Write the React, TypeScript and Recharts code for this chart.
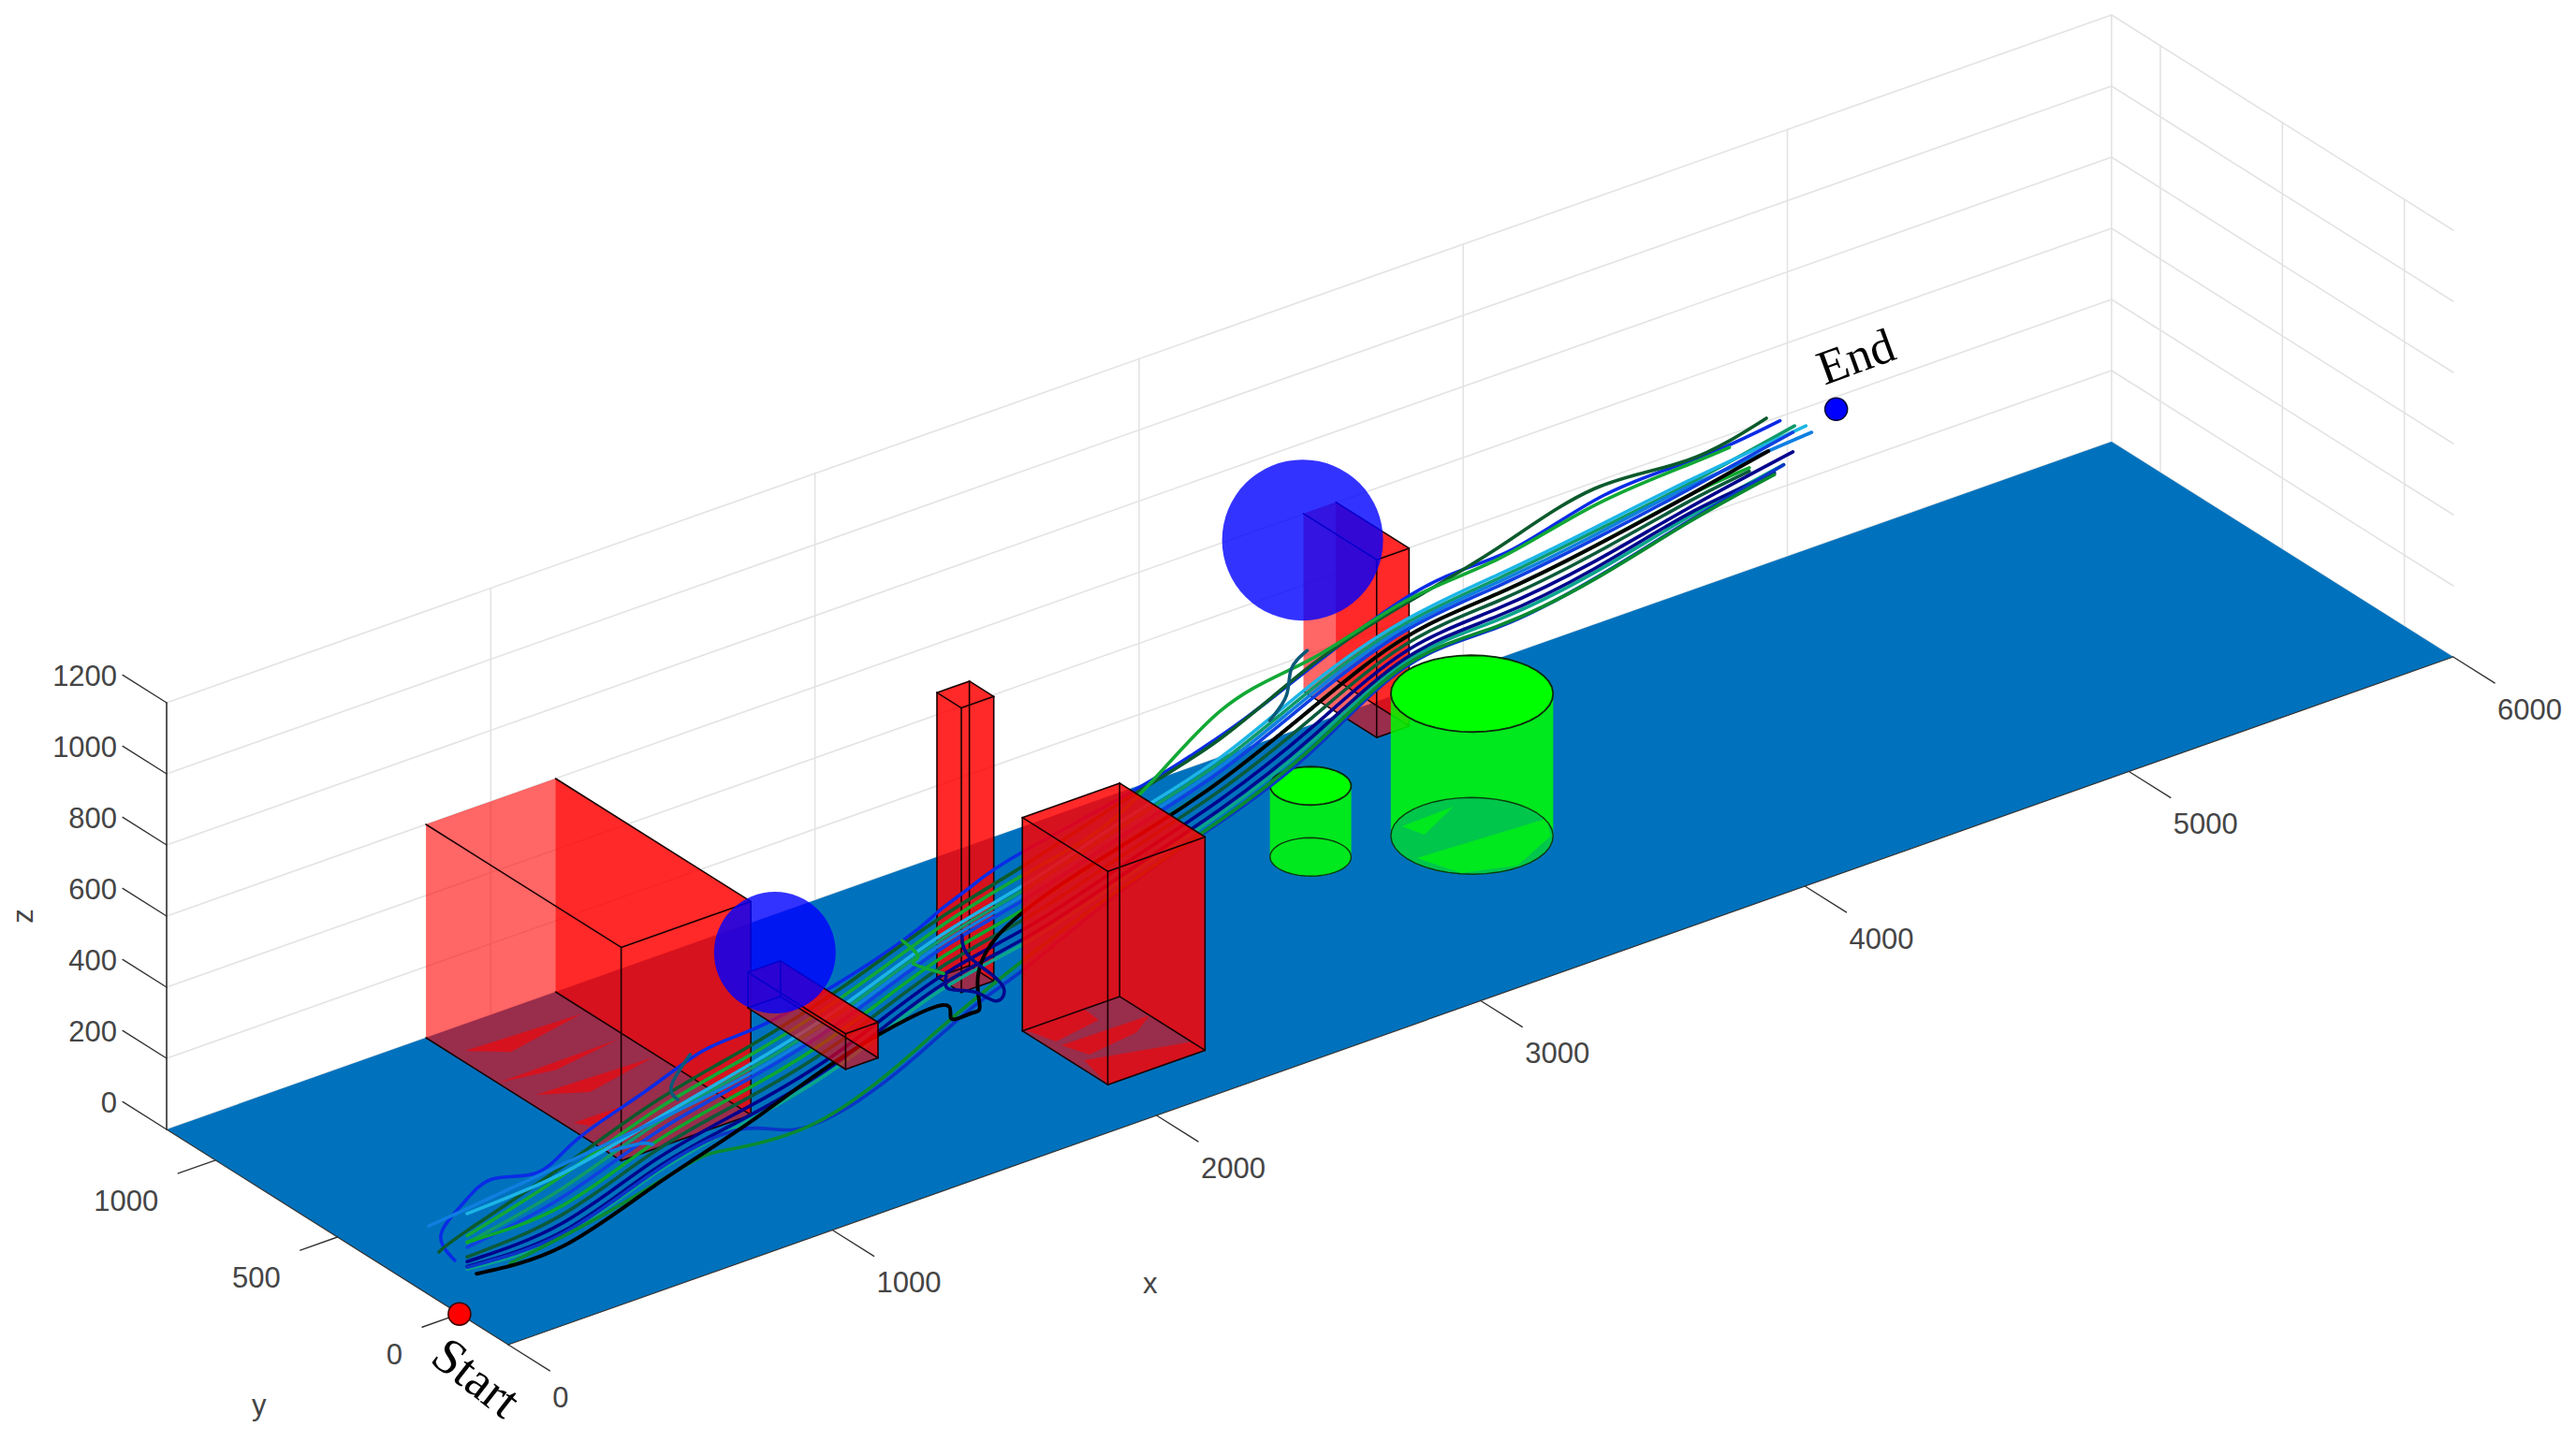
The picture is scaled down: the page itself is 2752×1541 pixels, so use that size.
import { ScatterChart, Scatter, XAxis, YAxis } from "recharts";

const WIDTH = 2752;
const HEIGHT = 1541;

// axis values
const xTicks = [0, 1000, 2000, 3000, 4000, 5000, 6000];
const yTicks = [0, 500, 1000];
const zTicks = [0, 200, 400, 600, 800, 1000, 1200];
const yFloor = [-200, 1200];

const startPoint = [0, 0, 0];
const endPoint = [5000, 1000, 500];

// obstacles: [xMin, xMax, yMin, yMax, zMin, zMax]
const boxRear = [3620, 3720, 1050, 1350, 0, 500];
const boxLeft = [800, 1200, 400, 1200, 0, 600];
const boxPillar = [2000, 2100, 600, 700, 0, 800];
const boxBeam = [1530, 1630, 450, 850, 0, 100];
const boxFront = [2000, 2300, 0, 350, 0, 600];

// [x, y, radius, height]
const cylinderSmall = [3115, 650, 100, 200];
const cylinderBig = [3500, 500, 200, 400];

// [x, y, z]
const sphereNear = [1500, 700, 230];
const sphereFar = [3000, 530, 980];

// bottom faces fighting with the floor, [x, y] corners
const streaksLeft = [
  [[835, 1088], [1184, 1071], [923, 1016]],
  [[802, 906], [1178, 911], [957, 875]],
  [[838, 800], [1187, 784], [954, 732]],
  [[824, 628], [990, 626], [848, 592]],
];
const streaksFront = [
  [[2008, 350], [2191, 350], [2185, 283], [2033, 256]],
  [[2032, 233], [2300, 227], [2221, 176], [2058, 152]],
  [[2030, 137], [2300, 55], [2300, 0], [2000, 0]],
];
const streaksCylinder = [
  [[3391, 643], [3555, 649], [3409, 575]],
  [[3321, 489], [3700, 462], [3656, 384], [3498, 309], [3362, 361]],
];

// flight paths
const sampleX = [50, 390, 720, 1050, 1380, 1720, 2050, 2380, 2720, 3050, 3380, 3710, 4050, 4380];
const sampleY = [35, 94, 151, 208, 266, 325, 382, 439, 498, 556, 613, 670, 729, 787];

const pathBlueTop = {
  color: "#0a2be6",
  x: [6, 0, 33, 142, 299, 442, 679, 885, 1065, 1331, 1606, 1727, 1840, 2006, 2426, 2705, 2925, 3401, 3740, 4079, 4419, 4709],
  y: [27, 76, 32, 51, 78, 103, 144, 180, 211, 257, 305, 326, 346, 374, 447, 496, 534, 617, 676, 734, 794, 844],
  z: [137, 189, 284, 312, 267, 305, 343, 376, 366, 373, 406, 437, 460, 484, 501, 529, 570, 660, 644, 668, 639, 629],
};
const pathDarkGreenTop = {
  color: "#0b5a2c",
  x: [0, ...sampleX, 4661],
  y: [84, ...sampleY, 836],
  z: [138, 203, 249, 301, 324, 358, 414, 447, 487, 524, 603, 643, 670, 700, 648, 655],
};
const pathGreenHump = {
  color: "#12a835",
  x: [...sampleX, 4530],
  y: [...sampleY, 813],
  z: [189, 224, 276, 298, 331, 389, 420, 460, 602, 620, 650, 638, 653, 635, 625],
};
const pathGreenTeal = {
  color: "#0f9a6a",
  x: [...sampleX, 4761],
  y: [...sampleY, 853],
  z: [169, 188, 238, 259, 291, 351, 378, 418, 458, 535, 587, 583, 580, 580, 594],
};
const pathCyan = {
  color: "#1cb5e6",
  x: [...sampleX, 4801],
  y: [...sampleY, 860],
  z: [251, 230, 250, 272, 305, 364, 392, 432, 471, 549, 597, 594, 590, 589, 578],
};
const pathLightBlue = {
  color: "#0f7fe0",
  x: [0, ...sampleX, 4821],
  y: [126, ...sampleY, 863],
  z: [193, 265, 255, 245, 246, 278, 338, 364, 404, 445, 522, 577, 573, 569, 572, 552],
};
const pathMidBlue = {
  color: "#1040e0",
  x: [...sampleX, 4755],
  y: [...sampleY, 852],
  z: [156, 163, 213, 233, 264, 325, 350, 390, 432, 508, 567, 562, 558, 564, 578],
};
const pathGreenMid = {
  color: "#0ca82e",
  x: [...sampleX, 4600],
  y: [...sampleY, 825],
  z: [171, 139, 187, 207, 238, 300, 323, 363, 405, 481, 548, 541, 538, 547, 540],
};
const pathDarkGreenMid = {
  color: "#0b5a3a",
  x: [...sampleX, 4600],
  y: [...sampleY, 825],
  z: [129, 114, 162, 181, 211, 274, 295, 335, 379, 454, 528, 520, 517, 530, 530],
};
const pathTeal = {
  color: "#0aa58c",
  x: [...sampleX, 4722],
  y: [...sampleY, 846],
  z: [95, 53, 99, 116, 144, 210, 226, 266, 313, 386, 479, 467, 464, 487, 500],
};
const pathNavy = {
  color: "#00008c",
  x: [...sampleX, 4755],
  y: [...sampleY, 852],
  z: [116, 90, 137, 155, 184, 249, 267, 307, 353, 427, 508, 499, 495, 512, 523],
};
const pathNavyLow = {
  color: "#000a8c",
  x: [...sampleX, 4689],
  y: [...sampleY, 840],
  z: [102, 66, 112, 129, 157, 223, 240, 280, 326, 400, 489, 478, 475, 496, 490],
};
const pathBlack = {
  color: "#000000",
  x: [83, 390, 720, 1050, 1380, 1720, 1767, 1840, 1867, 1933, 2380, 2720, 3050, 3380, 3710, 4050, 4380, 4668],
  y: [40, 94, 151, 208, 266, 325, 333, 346, 350, 362, 439, 498, 556, 613, 670, 729, 787, 837],
  z: [69, 24, 66, 109, 162, 171, 118, 103, 126, 284, 363, 405, 481, 548, 541, 538, 547, 560],
};
const pathGreenBottom = {
  color: "#0a8a30",
  x: [202, 552, 841, 991, 1288, 1584, 1763, 2050, 2380, 2720, 3050, 3380, 3710, 4050, 4380, 4689],
  y: [61, 122, 172, 198, 250, 301, 332, 382, 439, 498, 556, 613, 670, 729, 787, 840],
  z: [51, 57, 79, 59, 14, 62, 115, 185, 245, 295, 370, 470, 450, 445, 472, 486],
};
const pathBlueBottom = {
  color: "#0a35c8",
  x: [50, 390, 720, 1017, 1214, 1437, 1640, 1850, 2050, 2380, 2720, 3050, 3380, 3710, 4050, 4380, 4722],
  y: [35, 94, 151, 203, 237, 276, 311, 347, 382, 439, 498, 556, 613, 670, 729, 787, 846],
  z: [100, 60, 105, 103, 25, 16, 59, 120, 158, 238, 290, 360, 465, 446, 447, 475, 500],
};
const pathNavyScribble = {
  color: "#000a8c",
  x: [1750, 1760, 1850, 1926, 1956, 1906, 1826, 1806],
  y: [330, 332, 347, 361, 366, 357, 343, 340],
  z: [244, 203, 159, 103, 122, 189, 273, 334],
};
const pathTealKink = {
  color: "#0a5a7a",
  x: [2898, 2958, 2975, 3031],
  y: [529, 540, 543, 552],
  z: [506, 553, 620, 650],
};
const pathGreenZigzag = {
  color: "#12a835",
  x: [1594, 1650, 1634, 1740],
  y: [303, 313, 310, 328],
  z: [405, 338, 324, 255],
};
const pathBlueShort = {
  color: "#0f7fe0",
  x: [559, 665, 708],
  y: [123, 141, 149],
  z: [225, 204, 184],
};
const pathTealLoop = {
  color: "#0a5a7a",
  x: [841, 775, 798],
  y: [172, 161, 165],
  z: [384, 323, 274],
};

const flightPaths = [
  pathBlueTop, pathDarkGreenTop, pathGreenHump, pathGreenTeal, pathCyan, pathLightBlue,
  pathMidBlue, pathGreenMid, pathDarkGreenMid, pathTeal, pathNavy, pathNavyLow,
  pathBlueBottom, pathGreenBottom, pathBlack, pathNavyScribble, pathTealKink, pathGreenZigzag,
  pathBlueShort, pathTealLoop,
];

// view of the 3d axes on the page
const project = (x: number, y: number, z: number) => ({
  sx: 543 + 0.3463 * x - 0.2607 * (y + 200),
  sy: 1437 - 0.1225 * x - 0.1643 * (y + 200) - 0.38 * z,
});
const pts = (list: number[][]) => list.map(([x, y, z]) => project(x, y, z));
const onFloor = (list: number[][]) => pts(list.map(([x, y]) => [x, y, 0]));

const FONT = "Liberation Sans, Arial, sans-serif";
const SERIF = "Liberation Serif, Times New Roman, serif";
const GRID = "#e3e3e3";
const AXIS = "#333333";
const TICK_TEXT = "#454545";
const FLOOR = "#0072bd";
const RED = "#ff0000";
const GREEN = "#00ff00";
const ALPHA = 0.6;

const noDot = () => <g />;

// polygon through the scaled points of a series
const polygon = (fill: string, opacity: number, stroke = "none", strokeWidth = 1.5) => (props: any) => (
  <polygon
    points={props.points.map((p: any) => `${p.x},${p.y}`).join(" ")}
    fill={fill}
    fillOpacity={opacity}
    stroke={stroke}
    strokeWidth={strokeWidth}
  />
);

const Poly = (key: string, data: any[], fill: string, opacity: number, stroke?: string, strokeWidth?: number) => (
  <Scatter
    key={key}
    data={data}
    dataKey="sy"
    isAnimationActive={false}
    shape={noDot}
    line={polygon(fill, opacity, stroke, strokeWidth)}
  />
);

const Seg = (key: string, data: any[], stroke: string, strokeWidth: number, joint: any = "linear") => (
  <Scatter
    key={key}
    data={data}
    dataKey="sy"
    isAnimationActive={false}
    shape={noDot}
    line={{ stroke, strokeWidth, fill: "none", strokeLinejoin: "round", strokeLinecap: "round" }}
    lineJointType={joint}
  />
);

const Label = (key: string, point: any, text: string, opts: any) => (
  <Scatter
    key={key}
    data={[point]}
    dataKey="sy"
    isAnimationActive={false}
    shape={(p: any) => {
      const x = p.cx + (opts.dx || 0);
      const y = p.cy + (opts.dy || 0);
      return (
        <text
          x={x}
          y={y}
          textAnchor={opts.anchor || "middle"}
          fontFamily={opts.font || FONT}
          fontSize={opts.size || 31}
          fill={opts.fill || TICK_TEXT}
          transform={opts.rotate ? `rotate(${opts.rotate} ${x} ${y})` : undefined}
        >
          {text}
        </text>
      );
    }}
  />
);

const Dot = (key: string, point: any, r: number, fill: string, opacity = 1, stroke = "none") => (
  <Scatter
    key={key}
    data={[point]}
    dataKey="sy"
    isAnimationActive={false}
    shape={(p: any) => <circle cx={p.cx} cy={p.cy} r={r} fill={fill} fillOpacity={opacity} stroke={stroke} strokeWidth={1.5} />}
  />
);

// open boxes have no face on their far y side
const drawBox = (name: string, [x0, x1, y0, y1, z0, z1]: number[], open = false) => {
  const c = (x: number, y: number, z: number) => [x, y, z];
  const faces = [
    [c(x1, y0, z0), c(x1, y1, z0), c(x1, y1, z1), c(x1, y0, z1)],
    ...(open ? [] : [[c(x0, y1, z0), c(x1, y1, z0), c(x1, y1, z1), c(x0, y1, z1)]]),
    [c(x0, y0, z0), c(x0, y1, z0), c(x0, y1, z1), c(x0, y0, z1)],
    [c(x0, y0, z0), c(x1, y0, z0), c(x1, y0, z1), c(x0, y0, z1)],
    [c(x0, y0, z1), c(x1, y0, z1), c(x1, y1, z1), c(x0, y1, z1)],
  ];
  const edges = [
    [c(x0, y0, z0), c(x1, y0, z0)],
    [c(x0, y0, z1), c(x1, y0, z1)],
    [c(x0, y0, z0), c(x0, y1, z0)],
    [c(x1, y0, z0), c(x1, y1, z0)],
    [c(x0, y0, z1), c(x0, y1, z1)],
    [c(x1, y0, z1), c(x1, y1, z1)],
    [c(x0, y0, z0), c(x0, y0, z1)],
    [c(x1, y0, z0), c(x1, y0, z1)],
    ...(open
      ? []
      : [
          [c(x0, y1, z0), c(x1, y1, z0)],
          [c(x0, y1, z1), c(x1, y1, z1)],
          [c(x0, y1, z0), c(x0, y1, z1)],
          [c(x1, y1, z0), c(x1, y1, z1)],
        ]),
  ];
  return [
    ...faces.map((f, i) => Poly(`${name}-f${i}`, pts(f), RED, ALPHA)),
    ...edges.map((e, i) => Seg(`${name}-e${i}`, pts(e), "#1a0000", 1.6)),
  ];
};

const arc = (cx: number, cy: number, r: number, z: number, from: number, to: number) => {
  const out: number[][] = [];
  const steps = 40;
  for (let i = 0; i <= steps; i++) {
    const t = from + ((to - from) * i) / steps;
    out.push([cx + r * Math.cos(t), cy + r * Math.sin(t), z]);
  }
  return out;
};

const drawCylinder = (name: string, [cx, cy, r, h]: number[], fullBottom: boolean) => {
  const t0 = Math.atan2(-0.2607, 0.3463);
  const back = [...arc(cx, cy, r, 0, t0, t0 + Math.PI), ...arc(cx, cy, r, h, t0 + Math.PI, t0)];
  const front = [...arc(cx, cy, r, 0, t0 - Math.PI, t0), ...arc(cx, cy, r, h, t0, t0 - Math.PI)];
  const rim = (z: number) => arc(cx, cy, r, z, 0, Math.PI * 2);
  return [
    ...(fullBottom ? [Poly(`${name}-bottom`, pts(rim(0)), GREEN, ALPHA)] : []),
    Poly(`${name}-back`, pts(back), GREEN, ALPHA),
    Poly(`${name}-front`, pts(front), GREEN, ALPHA),
    Poly(`${name}-rim0`, pts(rim(0)), "none", 0, "#0b3d0b", 1.4),
    Poly(`${name}-top`, pts(rim(h)), GREEN, 1, "#0b2a0b", 1.8),
  ];
};

export default function App() {
  const [fx0, fx1] = [xTicks[0], xTicks[xTicks.length - 1]];
  const [fy0, fy1] = yFloor;
  const zMax = zTicks[zTicks.length - 1];

  return (
    <div style={{ position: "absolute", left: 0, top: 0, width: WIDTH, height: HEIGHT, background: "#fff" }}>
      <ScatterChart width={WIDTH} height={HEIGHT} margin={{ top: 0, right: 0, bottom: 0, left: 0 }}>
        <XAxis type="number" dataKey="sx" domain={[0, WIDTH]} hide allowDataOverflow />
        <YAxis type="number" dataKey="sy" domain={[0, HEIGHT]} reversed hide allowDataOverflow width={0} />

        {/* walls */}
        {xTicks.map((x) => Seg(`gx${x}`, pts([[x, fy1, 0], [x, fy1, zMax]]), GRID, 1.6))}
        {yTicks.map((y) => Seg(`gy${y}`, pts([[fx1, y, 0], [fx1, y, zMax]]), GRID, 1.6))}
        {zTicks.map((z) => Seg(`gzb${z}`, pts([[fx0, fy1, z], [fx1, fy1, z]]), GRID, 1.6))}
        {zTicks.map((z) => Seg(`gzr${z}`, pts([[fx1, fy1, z], [fx1, fy0, z]]), GRID, 1.6))}

        {/* floor */}
        {Poly("floor", onFloor([[fx0, fy0], [fx1, fy0], [fx1, fy1], [fx0, fy1]]), FLOOR, 1)}

        {/* axes */}
        {Seg("axis-x", pts([[fx0, fy0, 0], [fx1, fy0, 0]]), AXIS, 1.2)}
        {Seg("axis-y", pts([[fx0, fy0, 0], [fx0, fy1, 0]]), AXIS, 1.2)}
        {Seg("axis-z", pts([[fx0, fy1, 0], [fx0, fy1, zMax]]), AXIS, 1.6)}
        {xTicks.map((x) => Seg(`tx${x}`, pts([[x, fy0, 0], [x, fy0 - 170, 0]]), AXIS, 1.4))}
        {yTicks.map((y) => Seg(`ty${y}`, pts([[fx0, y, 0], [fx0 - 115, y, 0]]), AXIS, 1.4))}
        {zTicks.map((z) => Seg(`tz${z}`, pts([[fx0, fy1, z], [fx0, fy1 + 180, z]]), AXIS, 1.4))}
        {xTicks.map((x) => Label(`lx${x}`, project(x, fy0 - 170, 0), String(x), { anchor: "start", dx: 3, dy: 39 }))}
        {yTicks.map((y) => Label(`ly${y}`, project(fx0 - 115, y, 0), String(y), { anchor: "end", dx: -21, dy: 40 }))}
        {zTicks.map((z) => Label(`lz${z}`, project(fx0, fy1 + 180, z), String(z), { anchor: "end", dx: -6, dy: 12 }))}
        {Label("title-x", project(1459, -892, 0), "x", { dy: 10 })}
        {Label("title-y", project(-683, -86, 0), "y", { dy: 10 })}
        {Label("title-z", project(0, 1200, 600), "z", { dx: -143, rotate: -90 })}

        {/* obstacles behind the paths */}
        {streaksLeft.map((s, i) => Poly(`sl${i}`, onFloor(s), RED, ALPHA))}
        {drawBox("left", boxLeft, true)}
        {drawBox("pillar", boxPillar)}
        {drawBox("rear", boxRear, true)}
        {drawCylinder("small", cylinderSmall, true)}

        {/* paths */}
        {flightPaths.map((p, i) =>
          Seg(`path${i}`, p.x.map((x, j) => project(x, p.y[j], p.z[j])), p.color, p.color === "#000000" ? 4 : 3.6, "natural")
        )}

        {/* obstacles in front of the paths */}
        {drawBox("beam", boxBeam)}
        {streaksFront.map((s, i) => Poly(`sf${i}`, onFloor(s), RED, ALPHA))}
        {drawBox("front", boxFront)}
        {streaksCylinder.map((s, i) => Poly(`sc${i}`, onFloor(s), GREEN, ALPHA))}
        {drawCylinder("big", cylinderBig, false)}
        {Dot("sphere-near", project(sphereNear[0], sphereNear[1], sphereNear[2]), 65, "#0000ff", 0.8)}
        {Dot("sphere-far", project(sphereFar[0], sphereFar[1], sphereFar[2]), 86, "#0000ff", 0.8)}

        {/* start and end */}
        {Dot("start", project(startPoint[0], startPoint[1], startPoint[2]), 12, "#ff0000", 1, "#3a0000")}
        {Dot("end", project(endPoint[0], endPoint[1], endPoint[2]), 12, "#0000ff", 1, "#00003a")}
        {Label("start-label", project(startPoint[0], startPoint[1], startPoint[2]), "Start", {
          font: SERIF, size: 54, fill: "#000", dx: 7, dy: 82, rotate: 38,
        })}
        {Label("end-label", project(endPoint[0], endPoint[1], endPoint[2]), "End", {
          font: SERIF, size: 52, fill: "#000", dx: 27, dy: -40, rotate: -20,
        })}
      </ScatterChart>
    </div>
  );
}
